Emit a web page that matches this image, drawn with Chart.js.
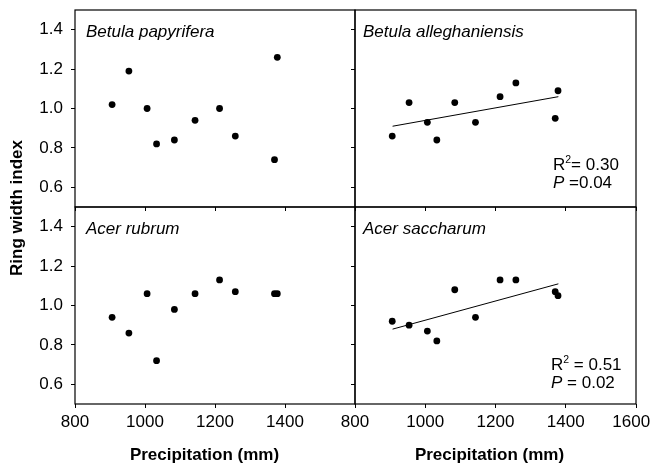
<!DOCTYPE html>
<html>
<head>
<meta charset="utf-8">
<script src="https://cdn.jsdelivr.net/npm/chart.js@4.4.1/dist/chart.umd.min.js"></script>
<style>
  html, body { margin: 0; padding: 0; background: #fff; }
  #wrap { position: relative; width: 653px; height: 464px; overflow: hidden; }
  /* canvases are bigger than the page so that the library's auto padding never kicks in */
  #wrap canvas { position: absolute; left: -50px; top: -50px; }
</style>
</head>
<body>
<div id="wrap">
  <canvas id="c1" width="753" height="564"></canvas>
  <canvas id="c2" width="753" height="564"></canvas>
  <canvas id="c3" width="753" height="564"></canvas>
  <canvas id="c4" width="753" height="564"></canvas>
</div>
<script>
// precipitation per year (same for all four species)
var precip = [906, 954, 1006, 1033, 1084, 1143, 1213, 1258, 1370, 1378];

// ring width index
var papyrifera     = [1.02, 1.19, 1.00, 0.82, 0.84, 0.94, 1.00, 0.86, 0.74, 1.26];
var alleghaniensis = [0.86, 1.03, 0.93, 0.84, 1.03, 0.93, 1.06, 1.13, 0.95, 1.09];
var rubrum         = [0.94, 0.86, 1.06, 0.72, 0.98, 1.06, 1.13, 1.07, 1.06, 1.06];
var saccharum      = [0.92, 0.90, 0.87, 0.82, 1.08, 0.94, 1.13, 1.13, 1.07, 1.05];

// regression line end points
var fitX      = [907, 1379];
var alleghFit = [0.91, 1.06];
var saccFit   = [0.88, 1.11];

var xTicks = [800, 1000, 1200, 1400, 1600];
var yTicks = [0.6, 0.8, 1.0, 1.2, 1.4];

var OFF = 50;          // canvas is shifted by this much up/left
var W = 653, H = 464;
var FONT = '"Liberation Sans", Arial, Helvetica, sans-serif';
Chart.defaults.font.family = FONT;
Chart.defaults.font.size = 17;
Chart.defaults.color = '#000';

function pts(xs, ys) {
  var out = [];
  for (var i = 0; i < xs.length; i++) out.push({ x: xs[i], y: ys[i] });
  return out;
}

// frame + text for each panel
var panelPlugin = {
  id: 'panelDeco',
  afterDraw: function (chart) {
    var a = chart.chartArea, ctx = chart.ctx;
    var o = chart.options.plugins.panelDeco;
    ctx.save();
    ctx.strokeStyle = '#000';
    ctx.lineWidth = 1.2;
    ctx.strokeRect(a.left, a.top, a.right - a.left, a.bottom - a.top);

    ctx.fillStyle = '#000';
    ctx.textAlign = 'left';
    ctx.textBaseline = 'alphabetic';
    ctx.font = 'italic 17px ' + FONT;
    ctx.fillText(o.name, a.left + o.nameDx, a.top + 26.5);

    if (o.r2) {
      var x = a.left + o.statDx, y1 = a.top + o.statDy, y2 = y1 + 18;
      ctx.font = '17px ' + FONT;
      ctx.fillText('R', x, y1);
      var w = ctx.measureText('R').width;
      ctx.font = '10.5px ' + FONT;
      ctx.fillText('2', x + w, y1 - 7.5);
      w += ctx.measureText('2').width;
      ctx.font = '17px ' + FONT;
      ctx.fillText(o.r2, x + w, y1);

      ctx.font = 'italic 17px ' + FONT;
      ctx.fillText('P', x, y2);
      w = ctx.measureText('P').width;
      ctx.font = '17px ' + FONT;
      ctx.fillText(o.p, x + w, y2);
    }

    if (o.xTitleX) {
      ctx.font = 'bold 17px ' + FONT;
      ctx.textAlign = 'center';
      ctx.fillText('Precipitation (mm)', o.xTitleX + OFF, 460 + OFF);
    }
    if (o.yTitle) {
      ctx.translate(17 + OFF, 208 + OFF);
      ctx.rotate(-Math.PI / 2);
      ctx.font = 'bold 17px ' + FONT;
      ctx.textAlign = 'center';
      ctx.textBaseline = 'middle';
      ctx.fillText('Ring width index', 0, 0);
    }
    ctx.restore();
  }
};

function makePanel(id, area, showX, showY, ys, fit, deco) {
  var yW = showY ? 70 : 0;   // room for the tick labels (they are clipped to the axis box)
  var xH = showX ? 40 : 0;
  var datasets = [{
    data: pts(precip, ys),
    backgroundColor: '#000',
    borderWidth: 0,
    pointRadius: 3.4
  }];
  if (fit) {
    datasets.push({
      data: pts(fitX, fit),
      showLine: true,
      borderColor: '#000',
      borderWidth: 1,
      pointRadius: 0
    });
  }
  return new Chart(document.getElementById(id), {
    type: 'scatter',
    data: { datasets: datasets },
    options: {
      responsive: false,
      animation: false,
      events: [],
      layout: {
        autoPadding: false,
        padding: {
          left: area[0] + OFF - yW,
          top: area[1] + OFF,
          right: W - area[2] + OFF,
          bottom: H - area[3] + OFF - xH
        }
      },
      plugins: { legend: { display: false }, tooltip: { enabled: false }, panelDeco: deco },
      scales: {
        x: {
          type: 'linear', min: 800, max: 1600,
          afterFit: function (s) { s.height = xH; },
          afterBuildTicks: function (s) { s.ticks = xTicks.map(function (v) { return { value: v }; }); },
          border: { display: false },
          grid: { drawOnChartArea: false, drawTicks: true, tickLength: 4, color: '#000' },
          ticks: {
            display: !!showX, padding: 4, maxRotation: 0, autoSkip: false,
            callback: function (v) {
              if (v === 1600) return showX === 'noLast' ? '' : '1600  '; // nudged left to fit the page
              return v;
            }
          }
        },
        y: {
          type: 'linear', min: 0.5, max: 1.5,
          afterFit: function (s) { s.width = yW; },
          afterBuildTicks: function (s) { s.ticks = yTicks.map(function (v) { return { value: v }; }); },
          border: { display: false },
          grid: { drawOnChartArea: false, drawTicks: true, tickLength: 4, color: '#000' },
          ticks: {
            display: showY, padding: 8, autoSkip: false,
            callback: function (v) { return v.toFixed(1); }
          }
        }
      }
    },
    plugins: [panelPlugin]
  });
}

makePanel('c1', [75, 10, 355, 207], false, true, papyrifera, null,
  { name: 'Betula papyrifera', nameDx: 11 });
makePanel('c2', [355, 10, 636, 207], false, false, alleghaniensis, alleghFit,
  { name: 'Betula alleghaniensis', nameDx: 8, r2: '= 0.30', p: ' =0.04', statDx: 198, statDy: 160 });
makePanel('c3', [75, 207, 355, 404], 'noLast', true, rubrum, null,
  { name: 'Acer rubrum', nameDx: 11, xTitleX: 204.5, yTitle: true });
makePanel('c4', [355, 207, 636, 404], true, false, saccharum, saccFit,
  { name: 'Acer saccharum', nameDx: 8, r2: ' = 0.51', p: ' = 0.02', statDx: 196, statDy: 163, xTitleX: 489.5 });
</script>
</body>
</html>
